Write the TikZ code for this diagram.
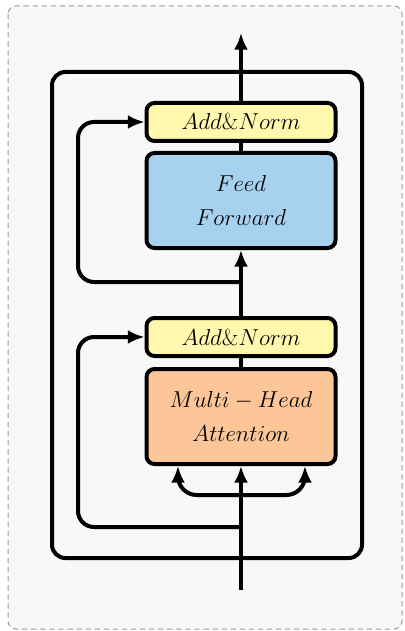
\documentclass[tikz,border=0pt]{standalone}
\usetikzlibrary{arrows.meta,calc}
\definecolor{bgc}{HTML}{F8F8F8}
\definecolor{yel}{HTML}{FFF8AD}
\definecolor{blu}{HTML}{A6D2F0}
\definecolor{ora}{HTML}{FCC698}
\definecolor{brd}{HTML}{9A9A9A}
\tikzset{
  blk/.style={draw=black, line width=3pt, rounded corners=6pt, align=center,
    minimum width=141.75pt, font=\fontsize{16.5pt}{25pt}\selectfont},
  small/.style={blk, minimum height=28.5pt},
  big/.style={blk, minimum height=71.25pt},
  wire/.style={line width=3pt},
  arr/.style={wire, -{Latex[length=12.5pt,width=10.5pt]}},
}
\begin{document}
\begin{tikzpicture}[x=0.75pt,y=-0.75pt]
\useasboundingbox (0,0) rectangle (404,631);
\draw[brd, dash pattern=on 4pt off 2.8pt, fill=bgc, rounded corners=6pt, line width=0.75pt] (8,6) rectangle (402,629);
% outer encoder box
\node[draw, line width=3pt, rounded corners=10pt, minimum width=232.5pt, minimum height=364.5pt] (enc) at (207,315) {};
\node[small, fill=yel] (an1) at (241,122) {$Add\&Norm$};
\node[big, fill=blu] (ff) at (241,200.5) {$Feed$\\$Forward$};
\node[small, fill=yel] (an2) at (241,337) {$Add\&Norm$};
\node[big, fill=ora] (mha) at (241,416.5) {$Multi-Head$\\$Attention$};
\coordinate (out) at (241,33);
\coordinate (in) at (241,590);
\coordinate (r1) at (241,282);
\coordinate (r2) at (241,527);
\coordinate (lx) at (78,0);
\coordinate (sp) at (241,495);
\draw[arr] (an1.north) -- (out);
\draw[wire] (ff.north) -- (an1.south);
\draw[arr] (an2.north) -- (ff.south);
\draw[wire] (mha.north) -- (an2.south);
\draw[arr] (in) -- (mha.south);
\draw[arr, rounded corners=12pt] (r1) -- (r1 -| lx) |- (an1.west);
\draw[arr, rounded corners=12pt] (r2) -- (r2 -| lx) |- (an2.west);
\draw[arr, rounded corners=14pt] (sp) -| ($(mha.south)+(-63,0)$);
\draw[arr, rounded corners=14pt] (sp) -| ($(mha.south)+(64,0)$);
\end{tikzpicture}
\end{document}
